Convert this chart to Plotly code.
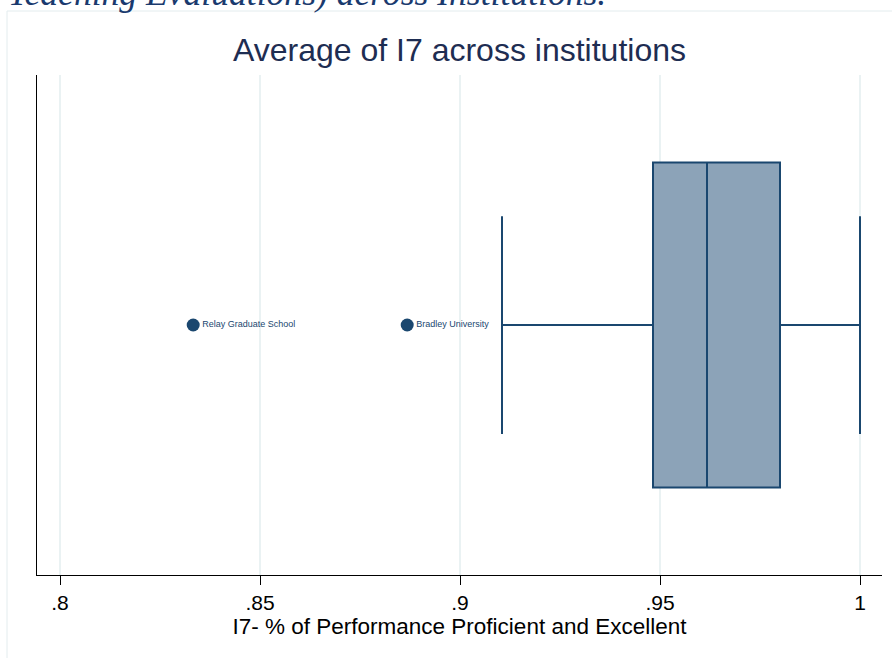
import plotly.graph_objects as go

# Box statistics
q1 = [0.94825]
median = [0.96175]
q3 = [0.98]
lowerfence = [0.9105]
upperfence = [1.0]

# Outliers
outlier_names = ["Relay Graduate School", "Bradley University"]
outlier_values = [0.8333, 0.8868]

tick_vals = [0.8, 0.85, 0.9, 0.95, 1.0]
tick_text = [".8", ".85", ".9", ".95", "1"]

navy = "#1a476f"
fill = "#8ca3b8"

fig = go.Figure()
fig.add_trace(go.Box(
    q1=q1, median=median, q3=q3, lowerfence=lowerfence, upperfence=upperfence,
    y=[0], orientation="h", width=1.3, whiskerwidth=0.67,
    fillcolor=fill, line=dict(color=navy, width=2), boxpoints=False,
    hoverinfo="skip", showlegend=False,
))
fig.add_trace(go.Scatter(
    x=outlier_values, y=[0] * len(outlier_values), mode="markers+text",
    text=outlier_names, textposition="middle right",
    textfont=dict(family="Liberation Sans, Arial, sans-serif", size=9, color=navy),
    marker=dict(color=navy, size=13), showlegend=False, cliponaxis=False,
))

fig.update_layout(
    width=892, height=658,
    margin=dict(l=37, r=10, t=75, b=83),
    paper_bgcolor="white", plot_bgcolor="white",
    font=dict(family="Liberation Sans, Arial, sans-serif", color="black"),
    title=dict(text="Average of I7 across institutions", x=0.5, xref="paper", xanchor="center",
               y=1 - 50 / 658, yanchor="middle",
               font=dict(size=32, color="#1e2d52")),
    xaxis=dict(range=[0.79425, 1.0055], tickvals=tick_vals, ticktext=tick_text,
               showgrid=True, gridcolor="#eaf2f3", gridwidth=1.5,
               showline=True, linecolor="black", linewidth=1,
               ticks="outside", ticklen=9, tickcolor="black",
               tickfont=dict(size=21, color="black"), zeroline=False,
               title=dict(text="I7- % of Performance Proficient and Excellent",
                          font=dict(size=22.5, color="black"), standoff=4)),
    yaxis=dict(range=[-1, 1], showgrid=False, showticklabels=False, zeroline=False,
               showline=True, linecolor="black", linewidth=1, ticks=""),
    shapes=[dict(type="rect", xref="paper", yref="paper",
                 x0=-0.0355, x1=1.0154, y0=-0.18, y1=1.128,
                 line=dict(color="#e3ecee", width=1), fillcolor="rgba(0,0,0,0)", layer="below")],
    annotations=[dict(text="Teaching Evaluations) across Institutions.",
                      xref="paper", yref="paper", x=(6 - 37) / 845, y=(575 - 15) / 500,
                      xanchor="left", yanchor="bottom", showarrow=False,
                      font=dict(family="Liberation Serif, Times New Roman, serif",
                                size=35.6, color="#1a3a6e", style="italic"))],
)

fig.write_html("out.html", config={"displayModeBar": False},
               post_script="document.body.style.margin='0';")
